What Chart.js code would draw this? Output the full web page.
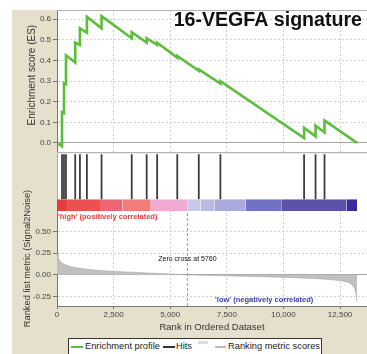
<!DOCTYPE html>
<html>
<head>
<meta charset="utf-8">
<script src="https://cdn.jsdelivr.net/npm/chart.js@4.4.1/dist/chart.umd.min.js"></script>
<style>
  html, body { margin: 0; padding: 0; background: #fff; }
  #wrap { position: relative; width: 367px; height: 354px; overflow: hidden; }
  canvas { display: block; }
  #legend { position: absolute; left: 68px; top: 338px; width: 254px; height: 24px;
            border: 1px solid #333; background: #fff; box-sizing: border-box;
            font: 9.3px "Liberation Sans", Arial, sans-serif; color: #222; white-space: nowrap; }
  #legend span { position: absolute; }
  #legend .txt { top: 2px; line-height: 11.4px; }
  #legend .sw { height: 2px; top: 7px; }
</style>
</head>
<body>
<div id="wrap">
  <canvas id="gsea" width="367" height="354"></canvas>
  <div id="legend">
    <span class="sw" style="left:2px;width:12px;background:#5cbf3a"></span>
    <span class="txt" style="left:16px">Enrichment profile</span>
    <span class="sw" style="left:94px;width:12px;background:#333"></span>
    <span class="txt" style="left:107px">Hits</span>
    <span class="sw" style="left:129px;width:10px;top:2px;height:3px;background:#ddd"></span>
    <span class="sw" style="left:146px;width:11px;background:#bbb"></span>
    <span class="txt" style="left:159px">Ranking metric scores</span>
  </div>
</div>
<script>
// Running enrichment score: (rank, ES) pairs, each hit gives a vertical step
const esRank  = [0, 220, 220, 308, 308, 396, 396, 805, 805, 1012, 1012, 1320, 1320, 1967, 1967,
                 3300, 3300, 3960, 3960, 4422, 4422, 5311, 5311, 6261, 6261, 7216, 7216,
                 10912, 10912, 11418, 11418, 11814, 11814, 13250];
const esValue = [0, -0.016, 0.150, 0.145, 0.290, 0.285, 0.425, 0.390, 0.487, 0.476, 0.556, 0.535, 0.612, 0.556, 0.615,
                 0.508, 0.537, 0.487, 0.508, 0.476, 0.486, 0.414, 0.422, 0.350, 0.357, 0.288, 0.300,
                 0.024, 0.073, 0.032, 0.084, 0.051, 0.109, 0.000];

// Positions of the gene-set members in the ranked list
const hitRanks = [220, 308, 396, 805, 1012, 1320, 1967, 3300, 3960, 4422, 5311, 6261, 7216, 10912, 11418, 11814];

// Ranked list metric (Signal2Noise)
const metricRank  = [0, 40, 100, 200, 350, 600, 1000, 1500, 2200, 3000, 4000, 5000, 5760,
                     6500, 7500, 8500, 9500, 10500, 11500, 12200, 12600, 12900, 13050, 13150, 13210, 13250];
const metricValue = [0.26, 0.21, 0.17, 0.14, 0.115, 0.095, 0.075, 0.06, 0.045, 0.034, 0.022, 0.01, 0,
                     -0.006, -0.012, -0.018, -0.025, -0.033, -0.045, -0.058, -0.07, -0.09, -0.12, -0.16, -0.22, -0.31];

// Correlation colour bar: segment edges along the ranked list
const barEdges = [0, 440, 1940, 2890, 4140, 5750, 6340, 6950, 8320, 9930, 12790, 13250];
const barColors = ['#e63b3b', '#ec5050', '#ee6676', '#f27b7b', '#f0aad2', '#c8c8ea',
                   '#babae2', '#aaaadc', '#7272c2', '#5c52aa', '#3a2c9c'];

const zeroCross = 5760;
const xTicks = [0, 2500, 5000, 7500, 10000, 12500];

const FONT = '"Liberation Sans", Arial, sans-serif';
const X_MAX = 13690;
const ES_MIN = -0.045, ES_MAX = 0.645;
const M_MIN = -0.36, M_MAX = 0.737;

const datasets = [];
datasets.push({
  type: 'line', label: 'Enrichment profile',
  data: esRank.map((r, i) => ({ x: r, y: esValue[i] })),
  yAxisID: 'yES', borderColor: '#5cbf3a', borderWidth: 2.6,
  pointRadius: 0, tension: 0, fill: false, order: 0
});
datasets.push({
  type: 'bar', label: 'Hits',
  data: hitRanks.map(r => ({ x: r, y: 1 })),
  yAxisID: 'yHits', backgroundColor: '#3a3a3a', barThickness: 1.1, order: 1
});
for (let i = 0; i < barColors.length; i++) {
  datasets.push({
    type: 'line', label: 'bar' + i,
    data: [{ x: barEdges[i], y: 1 }, { x: barEdges[i + 1], y: 1 }],
    yAxisID: 'yBar', fill: 'origin', backgroundColor: barColors[i],
    borderWidth: 0, pointRadius: 0, order: 2
  });
}
datasets.push({
  type: 'line', label: 'Ranking metric scores',
  data: metricRank.map((r, i) => ({ x: r, y: metricValue[i] })),
  yAxisID: 'yMetric', fill: 'origin', backgroundColor: '#c0c0c0',
  borderColor: '#a8a8a8', borderWidth: 0.6, pointRadius: 0, tension: 0, order: 3
});
datasets.push({
  type: 'line', label: 'Zero cross',
  data: [{ x: zeroCross, y: M_MIN }, { x: zeroCross, y: M_MAX }],
  yAxisID: 'yMetric', borderColor: '#9a9a9a', borderDash: [3, 2], borderWidth: 1,
  pointRadius: 0, fill: false, order: 4
});

const tickFont = { size: 8, family: FONT };
const gridColor = ctx => (ctx.tick && ctx.tick.value === 0) ? '#a4a4a4' : '#d4d4d4';
const gridDash = ctx => (ctx.tick && ctx.tick.value === 0) ? [] : [2, 2];
const fixWidth = s => { s.width = 45; };

const panelPlugin = {
  id: 'panels',
  beforeDraw(chart) {
    const { ctx, chartArea: a } = chart;
    ctx.save();
    ctx.fillStyle = '#fff';
    ctx.fillRect(0, 0, chart.width, chart.height);
    ctx.fillStyle = '#e4e0cc';
    ctx.fillRect(12, a.top, chart.width - 12, chart.height - a.top);
    ctx.fillStyle = '#fff';
    ctx.fillRect(a.left, a.top, a.right - a.left, a.bottom - a.top);
    ctx.restore();
  },
  beforeDatasetsDraw(chart) {
    const { ctx, chartArea: a, scales } = chart;
    const top = scales.yHits.top, bottom = scales.yBar.bottom;
    ctx.save();
    ctx.fillStyle = '#fff';
    ctx.fillRect(a.left + 0.6, top, a.right - a.left, bottom - top);
    ctx.strokeStyle = '#b4b4b4';
    ctx.lineWidth = 1.2;
    ctx.beginPath();
    ctx.moveTo(a.left, top + 0.5); ctx.lineTo(a.right, top + 0.5);
    ctx.moveTo(a.left, a.top + 0.5); ctx.lineTo(a.right, a.top + 0.5);
    ctx.stroke();
    ctx.restore();
  },
  afterDraw(chart) {
    const { ctx, scales } = chart;
    const x = scales.x, yE = scales.yES, yM = scales.yMetric;
    ctx.save();
    // title
    ctx.fillStyle = '#111';
    ctx.font = 'bold 19.6px ' + FONT;
    ctx.textAlign = 'right';
    ctx.textBaseline = 'alphabetic';
    ctx.fillText('16-VEGFA signature', 362, 26);
    // correlation labels
    ctx.textBaseline = 'middle';
    ctx.textAlign = 'left';
    ctx.font = 'bold 7.5px ' + FONT;
    ctx.fillStyle = '#e8403c';
    ctx.fillText("'high' (positively correlated)", x.getPixelForValue(0) + 1, yM.top + 5.6);
    ctx.fillStyle = '#3c3ca8';
    ctx.fillText("'low' (negatively correlated)", x.getPixelForValue(6980), yM.getPixelForValue(-0.29));
    // zero cross annotation
    ctx.textAlign = 'center';
    ctx.font = '7px ' + FONT;
    ctx.fillStyle = '#111';
    ctx.fillText('Zero cross at ' + zeroCross, x.getPixelForValue(zeroCross), yM.getPixelForValue(0.18));
    // y axis titles
    ctx.fillStyle = '#333';
    ctx.save();
    ctx.translate(32, (yE.top + yE.bottom) / 2 - 6);
    ctx.rotate(-Math.PI / 2);
    ctx.font = '10px ' + FONT;
    ctx.fillText('Enrichment score (ES)', 0, 0);
    ctx.restore();
    ctx.save();
    ctx.translate(27, (yM.top + yM.bottom) / 2);
    ctx.rotate(-Math.PI / 2);
    ctx.font = '9.3px ' + FONT;
    ctx.fillText('Ranked list metric (Signal2Noise)', 0, 0);
    ctx.restore();
    ctx.restore();
  }
};

new Chart(document.getElementById('gsea'), {
  type: 'line',
  data: { datasets },
  plugins: [panelPlugin],
  options: {
    responsive: false,
    animation: false,
    events: [],
    layout: { padding: { left: 12, top: 10, right: 0, bottom: 21.3 } },
    plugins: { legend: { display: false }, tooltip: { enabled: false } },
    scales: {
      x: {
        type: 'linear', position: 'bottom', min: 0, max: X_MAX, offset: false,
        afterBuildTicks: s => { s.ticks = xTicks.map(v => ({ value: v })); },
        ticks: { maxRotation: 0, autoSkip: false, color: '#444', font: tickFont, padding: 1 },
        grid: { color: '#d4d4d4', tickColor: '#777', tickLength: 3, offset: false },
        border: { display: true, color: '#777', dash: [2, 2] },
        title: { display: true, text: 'Rank in Ordered Dataset', color: '#333',
                 font: { size: 9.5, family: FONT }, padding: { top: 0.7, bottom: 0 } }
      },
      yES: {
        type: 'linear', position: 'left', stack: 'gsea', stackWeight: 142.7, weight: 4,
        min: ES_MIN, max: ES_MAX,
        ticks: { stepSize: 0.1, includeBounds: false, callback: v => v.toFixed(1),
                 color: '#444', font: tickFont, padding: 2 },
        grid: { color: gridColor, tickColor: '#777', tickLength: 4 },
        border: { display: true, color: '#777', dash: gridDash },
        afterFit: fixWidth
      },
      yHits: {
        type: 'linear', position: 'left', stack: 'gsea', stackWeight: 47.3, weight: 3,
        min: 0, max: 1.05,
        ticks: { display: false }, grid: { display: false },
        border: { display: true, color: '#777' },
        afterFit: fixWidth
      },
      yBar: {
        type: 'linear', position: 'left', stack: 'gsea', stackWeight: 11.7, weight: 2,
        min: 0, max: 1,
        ticks: { display: false }, grid: { display: false },
        border: { display: true, color: '#777' },
        afterFit: fixWidth
      },
      yMetric: {
        type: 'linear', position: 'left', stack: 'gsea', stackWeight: 95.3, weight: 1,
        min: M_MIN, max: M_MAX,
        ticks: { stepSize: 0.25, includeBounds: false, callback: v => v.toFixed(2),
                 color: '#444', font: tickFont, padding: 2 },
        grid: { color: gridColor, tickColor: '#777', tickLength: 4 },
        border: { display: true, color: '#777', dash: gridDash },
        afterFit: fixWidth
      }
    }
  }
});
</script>
</body>
</html>
